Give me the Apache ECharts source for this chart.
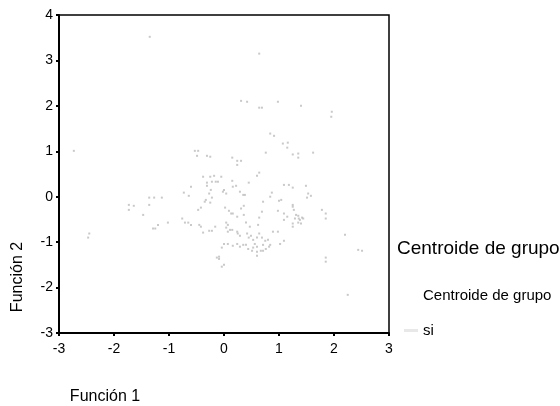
<!DOCTYPE html>
<html>
<head>
<meta charset="utf-8">
<script src="https://cdn.jsdelivr.net/npm/echarts@6/dist/echarts.min.js"></script>
<style>
  html, body { margin: 0; padding: 0; background: #fff; }
  #chart { width: 560px; height: 406px; }
</style>
</head>
<body>
<div id="chart"></div>
<script>
// Discriminant scores: function 1 (x) and function 2 (y) for group "si"
const funcion1 = [
  -1.35, 0.64, 0.31, 0.42, 0.64, 0.69, 0.98, 1.40, 1.96, 1.95,
  0.84, 0.91, 1.07, 1.16, 1.15, 1.25, 1.35, 1.35, 1.62, -2.73,
  -0.53, -0.47, -0.49, -0.31, -0.25, 0.15, 0.24, 0.31, 0.24, 0.76,
  0.64, 0.60, -0.38, -0.25, -0.18, -0.05, -0.31, -0.22, -0.15, -0.11,
  -0.60, -0.31, -0.27, -0.22, 0.00, 0.04, -0.73, -0.64, -1.36, -1.27,
  -1.13, -1.73, -1.64, -1.73, -1.36, -1.47, -0.35, -0.25, -0.42, -0.47,
  0.09, -0.76, -1.20, -1.02, -1.29, -1.25, -0.71, -0.65, -0.60, -0.45,
  -0.42, -0.38, -0.27, -0.22, -0.16, 0.04, 0.07, 0.04, 0.07, 0.00,
  0.07, -0.04, -0.09, -0.09, -2.45, -2.47, -0.24, 0.02, 0.15, 0.45,
  0.16, 0.22, -0.02, 0.29, 0.35, 0.38, -0.33, 0.87, 0.84, 1.00,
  1.04, 1.09, 1.18, 1.25, 1.49, 1.53, 1.58, 0.71, 0.36, 0.36,
  0.31, 0.13, 0.16, 0.24, 0.69, 0.64, 0.62, 0.40, 0.47, 0.98,
  1.09, 1.09, 1.15, 1.25, 1.25, 1.27, 1.35, 1.29, 1.38, 1.42,
  0.11, 0.15, 0.24, 0.25, 0.29, 0.42, 0.45, 0.49, 0.53, 0.60,
  0.64, 0.69, 0.75, 0.80, 0.84, 0.71, 0.60, 0.56, 0.53, 0.51,
  0.44, 0.40, 0.35, 0.29, 0.24, 0.16, 0.60, 0.60, 0.67, 0.71,
  0.76, 0.82, 1.02, 1.09, 0.98, 0.89, -0.13, -0.04, 0.00, 1.78,
  1.85, 1.85, 2.20, 2.44, 2.51, 1.85, 1.85, 2.25, 1.51, 1.25,
  1.25, 1.31, 1.36, 1.44, 1.35, 1.40
];
const funcion2 = [
  3.52, 3.15, 2.11, 2.09, 1.96, 1.96, 2.09, 2.00, 1.87, 1.76,
  1.39, 1.34, 1.17, 1.19, 1.08, 0.93, 0.95, 0.86, 0.97, 1.01,
  1.01, 1.01, 0.90, 0.90, 0.88, 0.86, 0.79, 0.79, 0.70, 0.97,
  0.53, 0.46, 0.44, 0.44, 0.46, 0.44, 0.31, 0.33, 0.33, 0.33,
  0.22, 0.24, 0.07, -0.02, 0.15, 0.07, 0.09, 0.02, -0.02, -0.02,
  -0.02, -0.18, -0.20, -0.29, -0.18, -0.40, -0.11, -0.13, -0.24, -0.29,
  -0.31, -0.48, -0.62, -0.57, -0.70, -0.70, -0.57, -0.57, -0.62, -0.62,
  -0.66, -0.79, -0.75, -0.75, -0.66, -0.57, -0.62, -0.68, -0.77, -1.04,
  -1.04, -1.12, -1.32, -1.37, -0.81, -0.90, 0.15, -0.24, 0.35, 0.31,
  0.22, 0.24, 0.11, 0.11, 0.04, 0.04, -0.07, 0.09, 0.00, -0.09,
  -0.07, 0.26, 0.26, 0.20, 0.24, 0.07, 0.02, -0.11, -0.20, -0.40,
  -0.26, -0.37, -0.37, -0.44, -0.33, -0.46, -0.62, -0.57, -0.66, -0.31,
  -0.37, -0.51, -0.44, -0.66, -0.59, -0.29, -0.42, -0.48, -0.51, -0.46,
  -0.73, -0.73, -0.77, -0.81, -0.86, -0.81, -0.90, -0.86, -0.95, -0.90,
  -0.81, -0.90, -0.97, -0.95, -1.06, -1.06, -1.10, -1.04, -1.12, -1.19,
  -1.15, -1.06, -1.06, -1.10, -1.04, -1.08, -1.21, -1.30, -1.19, -1.19,
  -1.15, -1.10, -1.04, -0.97, -0.77, -0.77, -1.34, -1.54, -1.50, -0.29,
  -0.37, -0.48, -0.84, -1.17, -1.19, -1.34, -1.43, -2.16, -0.02, -0.18,
  -0.22, -0.40, -0.48, -0.48, -0.57, -0.59
];
const xTicks = [-3, -2, -1, 0, 1, 2, 3];
const yTicks = [-3, -2, -1, 0, 1, 2, 3, 4];
const legendTitle = 'Centroide de grupo';
const groupNames = ['Centroide de grupo', 'si'];

const points = funcion1.map((x, i) => [x, funcion2[i]]);

const chart = echarts.init(document.getElementById('chart'), null, { renderer: 'canvas' });

const axisCommon = {
  type: 'value',
  interval: 1,
  splitLine: { show: false },
  axisLine: { show: true, onZero: false, lineStyle: { color: '#000', width: 2 } },
  axisTick: { show: true, inside: false, length: 3, lineStyle: { color: '#000', width: 2 } },
  axisLabel: { color: '#000', fontFamily: 'Liberation Sans', fontSize: 14 }
};

chart.setOption({
  animation: false,
  backgroundColor: '#fff',
  grid: {
    left: 59, top: 15, width: 330, height: 318,
    show: true, borderColor: '#000', borderWidth: 1.5, backgroundColor: '#fff'
  },
  xAxis: Object.assign({}, axisCommon, {
    min: xTicks[0], max: xTicks[xTicks.length - 1],
    axisLabel: Object.assign({}, axisCommon.axisLabel, { margin: 9 })
  }),
  yAxis: Object.assign({}, axisCommon, {
    min: yTicks[0], max: yTicks[yTicks.length - 1],
    axisLabel: Object.assign({}, axisCommon.axisLabel, { margin: 6 })
  }),
  legend: {
    orient: 'vertical',
    left: 399, top: 283,
    itemWidth: 14, itemHeight: 3, itemGap: 20,
    icon: 'rect',
    textStyle: { color: '#000', fontFamily: 'Liberation Sans', fontSize: 15 },
    data: [
      { name: groupNames[0], itemStyle: { opacity: 0 } },
      { name: groupNames[1], itemStyle: { color: '#e2e2e2' } }
    ]
  },
  graphic: [
    { type: 'text', left: 397, top: 239,
      style: { text: legendTitle, fill: '#000', font: '19px "Liberation Sans"' } },
    { type: 'text', x: 18, y: 277, rotation: Math.PI / 2,
      style: { text: 'Función 2', fill: '#000', font: '16px "Liberation Sans"',
               textAlign: 'center', textVerticalAlign: 'middle' } },
    { type: 'text', x: 105, y: 397,
      style: { text: 'Función 1', fill: '#000', font: '16px "Liberation Sans"',
               textAlign: 'center', textVerticalAlign: 'middle' } }
  ],
  series: [
    { name: groupNames[0], type: 'scatter', data: [], itemStyle: { color: '#fff' } },
    {
      name: groupNames[1], type: 'scatter', data: points,
      symbol: 'rect', symbolSize: 2,
      itemStyle: { color: '#bcbcbc' }
    }
  ]
});
</script>
</body>
</html>
